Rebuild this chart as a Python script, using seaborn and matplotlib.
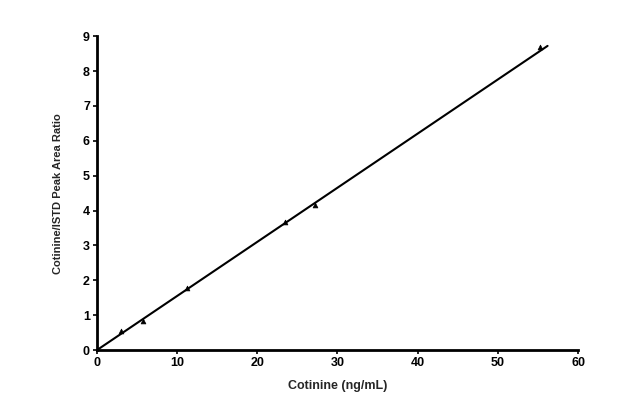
import matplotlib
matplotlib.use("Agg")
import matplotlib.pyplot as plt
import seaborn as sns
import pandas as pd

# data
conc = [3.0, 5.7, 11.2, 23.5, 27.2, 55.2]
ratio = [0.55, 0.83, 1.78, 3.68, 4.16, 8.68]
fit_x = [0.0, 56.2]
fit_y = [0.0, 8.72]
x_ticks = [0, 10, 20, 30, 40, 50, 60]
y_ticks = [0, 1, 2, 3, 4, 5, 6, 7, 8, 9]

sns.set_theme(style="ticks")
plt.rcParams['font.family'] = ['Liberation Sans', 'DejaVu Sans']

fig = plt.figure(figsize=(6.29, 3.97), dpi=100)
ax = fig.add_axes([0.154, 0.118, 0.765, 0.791])

pts = pd.DataFrame({"x": conc, "y": ratio})
fit = pd.DataFrame({"x": fit_x, "y": fit_y})
sns.lineplot(data=fit, x="x", y="y", ax=ax, color="black", linewidth=1.5)
sns.scatterplot(data=pts, x="x", y="y", ax=ax, color="black", s=12, marker="^",
                edgecolor="black", linewidth=0.5, zorder=3)

ax.set_xlim(0, 60)
ax.set_ylim(0, 9)
ax.set_xticks(x_ticks)
ax.set_yticks(y_ticks)
ax.tick_params(direction="out", length=3, width=1.2, labelsize=9, colors="black", pad=2)
for lbl in ax.get_xticklabels() + ax.get_yticklabels():
    lbl.set_fontweight("bold")
for s in ["top", "right"]:
    ax.spines[s].set_visible(False)
for s in ["left", "bottom"]:
    ax.spines[s].set_linewidth(2)
    ax.spines[s].set_color("black")

ax.set_xlabel("Cotinine (ng/mL)", fontsize=9, fontweight="bold", labelpad=8)
ax.set_ylabel("Cotinine/ISTD Peak Area Ratio", fontsize=8, fontweight="bold", labelpad=14)

fig.savefig("out.png", dpi=100)
